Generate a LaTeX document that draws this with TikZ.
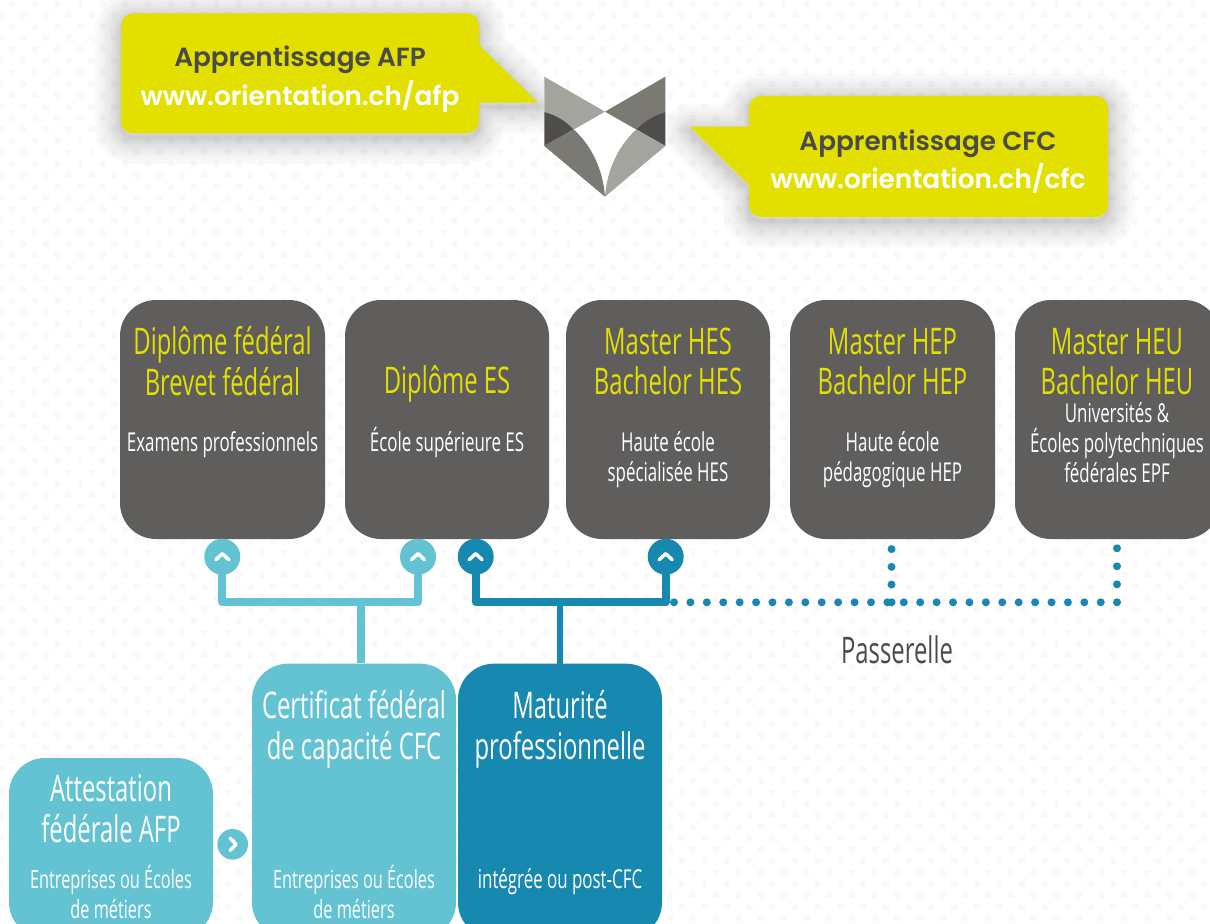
\documentclass[tikz,border=0pt]{standalone}
\usepackage{fontspec}
\setmainfont{Open Sans}[FakeStretch=0.65]
\newfontfamily\callfont{Poppins SemiBold}
\usetikzlibrary{calc}
\definecolor{pageDot}{HTML}{F9F9F9}
\definecolor{boxGray}{HTML}{5F5E5C}
\definecolor{lime}{HTML}{E3E000}
\definecolor{lightBlue}{HTML}{64C3D2}
\definecolor{deepBlue}{HTML}{1788AF}
\definecolor{callInk}{HTML}{4A4A48}
\definecolor{logoLight}{HTML}{A4A49F}
\definecolor{logoMid}{HTML}{7A7974}
\definecolor{logoDark}{HTML}{504D4D}
\tikzset{
  x=0.75pt,y=-0.75pt,
  panel/.style={fill=#1,rounded corners=27pt,inner sep=0pt},
  titletext/.style={text=#1,align=center,font=\fontsize{27.5}{30.6}\selectfont,inner sep=0pt},
  subtext/.style={text=white,align=center,font=\fontsize{19.5}{22.4}\selectfont,inner sep=0pt},
  footnotetext/.style={text=white,align=center,font=\fontsize{18.8}{22}\selectfont,inner sep=0pt},
  calltext/.style={text=#1,font=\callfont\fontsize{19.7}{22}\selectfont,inner sep=0pt},
  badge/.style={circle,fill=#1,minimum size=27pt,inner sep=0pt},
  smallbadge/.style={circle,fill=#1,minimum size=23pt,inner sep=0pt},
  chev/.style={draw=white,line width=2.6pt,line cap=round,line join=round},
  bus/.style={draw=#1,line width=6pt,line join=round,line cap=round},
  dotline/.style={draw=deepBlue,line width=6pt,line cap=round,dash pattern=on 0pt off #1},
}
\newcommand{\callAshape}{(133,13.3) -- (467,13.3) arc[start angle=-90,end angle=0,radius=12] -- (479,45) -- (538.3,102.7) -- (479,102.7) -- (479,121.3) arc[start angle=0,end angle=90,radius=12] -- (133,133.3) arc[start angle=90,end angle=180,radius=12] -- (121.3,25.3) arc[start angle=180,end angle=270,radius=12] -- cycle}
\newcommand{\callBshape}{(761,96) -- (1096,96) arc[start angle=-90,end angle=0,radius=12] -- (1108,205) arc[start angle=0,end angle=90,radius=12] -- (761,217) arc[start angle=90,end angle=180,radius=12] -- (749,185) -- (690,126.7) -- (749,126.7) -- (749,108) arc[start angle=180,end angle=270,radius=12] -- cycle}
\begin{document}
\begin{tikzpicture}
\useasboundingbox (0,0) rectangle (1210,924);
\clip (0,0) rectangle (1210,924);
\fill[white] (0,0) rectangle (1210,924);
% dotted paper
\foreach \r in {0,...,81}{
  \pgfmathsetmacro{\yy}{3.6+11.43*\r}
  \pgfmathsetmacro{\xo}{mod(\r,2)==1 ? 0.6 : 11.95}
  \foreach \c in {0,...,53}{
    \fill[pageDot] ({\xo+22.7*\c},\yy) circle[radius=3.6];
  }
}
% shadows of the callouts
\foreach \w in {2,4,7,10,14,18,23,28,34,40}{
  \begin{scope}[shift={(0,4)}]
    \path[draw=black,draw opacity=.021,line width=\w pt,line join=round] \callAshape;
    \path[draw=black,draw opacity=.021,line width=\w pt,line join=round] \callBshape;
  \end{scope}
}
% callouts
\fill[lime] \callAshape;
\fill[lime] \callBshape;
\node[calltext=callInk] (afpA) at (300,60) {Apprentissage AFP};
\node[calltext=white] (afpB) at (300,97) {www.orientation.ch/afp};
\node[calltext=callInk] (cfcA) at (928,144) {Apprentissage CFC};
\node[calltext=white] (cfcB) at (928,178) {www.orientation.ch/cfc};
% logo
\fill[white] (544.3,76.7) -- (605,111.7) -- (665.3,76.7) -- (665.3,146) -- (605,196.7) -- (544.3,146) -- cycle;
\fill[logoLight] (544.3,76.7) -- (605,111.7) -- (573.7,129.5) .. controls (565,120) and (555,115) .. (544.3,112) -- cycle;
\fill[logoDark] (544.3,112) .. controls (555,115) and (565,120) .. (573.7,129.5) -- (544.3,146) -- cycle;
\fill[logoMid] (544.3,146) -- (573.7,129.5) .. controls (592,146) and (603,170) .. (605,196.7) -- cycle;
\fill[logoMid] (665.3,76.7) -- (605,111.7) -- (636.3,129.5) .. controls (645,120) and (655,115) .. (665.3,112) -- cycle;
\fill[logoDark] (665.3,112) .. controls (655,115) and (645,120) .. (636.3,129.5) -- (665.3,146) -- cycle;
\fill[logoLight] (665.3,146) -- (636.3,129.5) .. controls (618,146) and (607,170) .. (605,196.7) -- cycle;
% upper panels
\node[panel=boxGray,minimum width=153.75pt,minimum height=179.25pt] (p1) at (222.5,419.5) {};
\node[panel=boxGray,minimum width=153pt,minimum height=179.25pt] (p2) at (447,419.5) {};
\node[panel=boxGray,minimum width=153pt,minimum height=179.25pt] (p3) at (668,419.5) {};
\node[panel=boxGray,minimum width=153.75pt,minimum height=179.25pt] (p4) at (892.5,419.5) {};
\node[panel=boxGray,minimum width=153.75pt,minimum height=179.25pt] (p5) at (1117.5,419.5) {};
\node[titletext=lime] (t1) at (222.5,361.5) {Diplôme fédéral\\Brevet fédéral};
\node[subtext] (s1) at (222.5,445) {Examens professionnels};
\node[titletext=lime] (t2) at (447,384) {Diplôme ES};
\node[subtext] (s2) at (447,443) {École supérieure ES};
\node[titletext=lime] (t3) at (668,361.5) {Master HES\\Bachelor HES};
\node[subtext] (s3) at (668,459.5) {Haute école\\spécialisée HES};
\node[titletext=lime] (t4) at (892.5,361.5) {Master HEP\\Bachelor HEP};
\node[subtext] (s4) at (892.5,459.5) {Haute école\\pédagogique HEP};
\node[titletext=lime] (t5) at (1117,361.5) {Master HEU\\Bachelor HEU};
\node[subtext] (s5) at (1117,443) {Universités \&\\Écoles polytechniques\\fédérales EPF};
% lower panels
\node[panel=lightBlue,minimum width=153pt,minimum height=206pt] (cfc) at (354,801) {};
\node[panel=deepBlue,minimum width=153pt,minimum height=206pt] (mat) at (560,801) {};
\node[panel=lightBlue,minimum width=153pt,minimum height=135pt] (afp) at (111,848) {};
\node[titletext=white] (t6) at (354,729.5) {Certificat fédéral\\de capacité CFC};
\node[footnotetext] (s6) at (354,892) {Entreprises ou Écoles\\de métiers};
\node[titletext=white] (t7) at (560,729.5) {Maturité\\professionnelle};
\node[subtext] (s7) at (560,882) {intégrée ou post-CFC};
\node[titletext=white] (t8) at (111,808.5) {Attestation\\fédérale AFP};
\node[footnotetext] (s8) at (111,892) {Entreprises ou Écoles\\de métiers};
% badges
\node[badge=lightBlue] (b1) at (222.3,556.7) {};
\node[badge=lightBlue] (b2) at (418,556.7) {};
\node[badge=deepBlue] (b3) at (475.7,556.7) {};
\node[badge=deepBlue] (b4) at (665.7,556.7) {};
\node[smallbadge=lightBlue] (b5) at (232.7,844.3) {};
\foreach \n in {b1,b2,b3,b4}{
  \draw[chev] ([shift={(-6.5,3)}]\n.center) -- ([shift={(0,-3)}]\n.center) -- ([shift={(6.5,3)}]\n.center);
}
\draw[chev] ([shift={(-2.5,-6)}]b5.center) -- ([shift={(3.5,0)}]b5.center) -- ([shift={(-2.5,6)}]b5.center);
% connectors
\coordinate (busL) at (360.7,602.3);
\coordinate (busD) at (560,602.3);
\draw[bus=lightBlue] (b1) -- (b1 |- busL) -- (b2 |- busL) -- (b2);
\draw[bus=lightBlue,line cap=butt] (busL) -- (busL |- cfc.north);
\draw[bus=deepBlue] (b3) -- (b3 |- busD) -- (b4 |- busD) -- (b4);
\draw[bus=deepBlue,line width=5.2pt] (busD) -- (busD |- mat.north);
% passerelle
\coordinate (passStart) at (674,602.3);
\coordinate (passEnd) at (1117,602.3);
\coordinate (passA) at (891.5,602.3);
\coordinate (upA) at (891.5,549);
\coordinate (upB) at (1117,547);
\draw[dotline=12.31pt] (passStart) -- (passEnd);
\draw[dotline=13.5pt] (passEnd) -- (upB);
\draw[dotline=13.3pt] (passA) -- (upA);
\node[text=callInk,font=\fontsize{27.5}{30}\selectfont,inner sep=0pt] (pass) at (897,650) {Passerelle};
\end{tikzpicture}
\end{document}
